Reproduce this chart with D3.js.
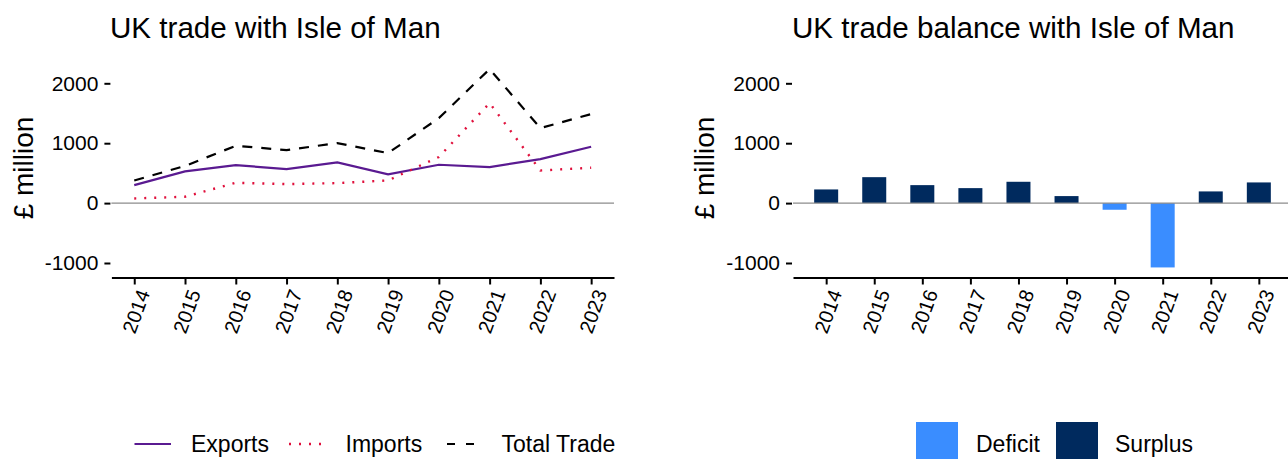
<!DOCTYPE html>
<html><head><meta charset="utf-8">
<script src="https://cdn.jsdelivr.net/npm/d3@7"></script>
<style>
body{margin:0;background:#fff;}
text{font-family:"Liberation Sans",Arial,sans-serif;fill:#000;}
</style></head>
<body>
<svg id="c" width="1288" height="459"></svg>
<script>
const years = ["2014","2015","2016","2017","2018","2019","2020","2021","2022","2023"];
const exportsVals = [300, 529, 634, 568, 679, 479, 640, 601, 735, 940];
const importsVals = [78, 106, 339, 317, 334, 378, 770, 1670, 545, 590];
const totalVals = [378, 620, 957, 885, 1002, 835, 1419, 2237, 1252, 1486];
const balanceVals = [228, 433, 300, 250, 356, 117, -111, -1074, 195, 345];
const yTicks = [-1000, 0, 1000, 2000];
const seriesNames = ["Exports", "Imports", "Total Trade"];
const balanceNames = ["Deficit", "Surplus"];

const svg = d3.select("#c");
const y = d3.scaleLinear().domain([-1000, 2000]).range([263, 83.3]);
const axisY = 277.5;

function panel(x, title, titleX, ytitleX){
  const g = svg.append("g");
  g.append("text").attr("x", titleX).attr("y", 38).attr("font-size", 29.6).text(title);
  const ya = g.append("g").attr("transform", `translate(${x.range()[0]-1},0)`)
    .call(d3.axisLeft(y).tickValues(yTicks).tickSize(6).tickPadding(6).tickFormat(d => String(d)));
  ya.select(".domain").remove();
  ya.selectAll(".tick line").attr("stroke", "#000").attr("stroke-width", 2);
  ya.selectAll(".tick text").attr("font-size", 21).attr("font-family", "Liberation Sans, Arial, sans-serif");
  g.append("g").attr("class", "marks");
  g.append("line").attr("x1", x.range()[0]).attr("x2", x.range()[1])
    .attr("y1", y(0)).attr("y2", y(0)).attr("stroke", "#8c8c8c").attr("stroke-width", 1.2);
  const xa = g.append("g").attr("transform", `translate(0,${axisY})`)
    .call(d3.axisBottom(x).tickSize(7).tickSizeOuter(0));
  xa.select(".domain").attr("stroke", "#000").attr("stroke-width", 2.2);
  xa.selectAll(".tick line").attr("stroke", "#000").attr("stroke-width", 2);
  xa.selectAll(".tick text").attr("font-size", 20).attr("font-family", "Liberation Sans, Arial, sans-serif")
    .attr("text-anchor", "end").attr("dy", "0.35em")
    .attr("transform", "translate(9,13) rotate(-70)").attr("x", 0).attr("y", 0);
  g.append("text").attr("transform", `translate(${ytitleX},168) rotate(-90)`)
    .attr("text-anchor", "middle").attr("font-size", 28).text("£ million");
  return g;
}

// Left panel
const xL = d3.scalePoint().domain(years).range([111.4, 614]).padding(0.45);
const gL = panel(xL, "UK trade with Isle of Man", 110, 33);
const styles = [
  {vals: exportsVals, color: "#5a1a91", dash: null, w: 2.2},
  {vals: importsVals, color: "#e0103c", dash: "2,8", w: 2.4},
  {vals: totalVals, color: "#000000", dash: "10,9", w: 2.2}
];
const line = d3.line().x((d,i) => xL(years[i])).y(d => y(d));
styles.forEach(s => {
  gL.select(".marks").append("path").datum(s.vals).attr("d", line).attr("fill", "none")
    .attr("stroke", s.color).attr("stroke-width", s.w)
    .attr("stroke-dasharray", s.dash);
});
const legL = [
  {name: seriesNames[0], x1: 134.5, x2: 171, tx: 191, s: styles[0]},
  {name: seriesNames[1], x1: 289, x2: 323, tx: 345.5, s: styles[1]},
  {name: seriesNames[2], x1: 447, x2: 474, tx: 501.5, s: styles[2]}
];
legL.forEach((l, i) => {
  svg.append("line").attr("x1", l.x1).attr("x2", l.x2).attr("y1", 444).attr("y2", 444)
    .attr("stroke", l.s.color).attr("stroke-width", l.s.w)
    .attr("stroke-dasharray", i === 2 ? "8,11" : l.s.dash);
  svg.append("text").attr("x", l.tx).attr("y", 452).attr("font-size", 23).text(l.name);
});

// Right panel
const xR = d3.scalePoint().domain(years).range([793, 1292]).padding(0.69);
const gR = panel(xR, "UK trade balance with Isle of Man", 792, 714);
const colR = d3.scaleOrdinal().domain(balanceNames).range(["#3a8dff", "#002a5e"]);
const bw = 24;
gR.select(".marks").selectAll("rect").data(balanceVals).join("rect")
  .attr("x", (d,i) => xR(years[i]) - bw/2)
  .attr("width", bw)
  .attr("y", d => y(Math.max(0, d)))
  .attr("height", d => Math.abs(y(d) - y(0)))
  .attr("fill", d => colR(d < 0 ? "Deficit" : "Surplus"));
const legR = [{name: balanceNames[0], x: 916, tx: 976}, {name: balanceNames[1], x: 1056, tx: 1115}];
legR.forEach(l => {
  svg.append("rect").attr("x", l.x).attr("y", 422).attr("width", 42).attr("height", 42).attr("fill", colR(l.name));
  svg.append("text").attr("x", l.tx).attr("y", 452).attr("font-size", 23).text(l.name);
});
</script>
</body></html>
